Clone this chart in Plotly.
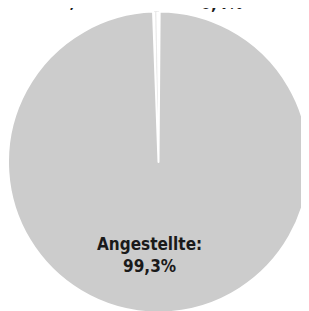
import plotly.graph_objects as go

labels = ["Beamte", "Arbeiter", "Angestellte"]
values = [0.3, 0.4, 99.3]
colors = ["#ffffff", "#ffffff", "#cccccc"]

FONT = "DejaVu Sans Condensed, DejaVu Sans, sans-serif"
TXT = dict(family=FONT, size=17, color="#1a1a1a")


def fmt(v):
    return f"{v:.1f}".replace(".", ",") + "%"


fig = go.Figure(go.Pie(
    labels=labels,
    values=values,
    sort=False,
    direction="clockwise",
    rotation=-1 - values[0] / 100 * 360,
    marker=dict(colors=colors,
                line=dict(color=["#e4e4e4", "#e4e4e4", "#ffffff"], width=[0.8, 0.8, 2])),
    textinfo="none",
    showlegend=False,
    hoverinfo="skip",
    domain=dict(x=[0.0, 301 / 309], y=[6.5 / 311, 307.5 / 311]),
))

# big-slice label
fig.add_annotation(x=141 / 309, y=64 / 311, xref="paper", yref="paper",
                   xanchor="center", yanchor="middle", showarrow=False,
                   text=f"<b>{labels[2]}:<br>{fmt(values[2])}</b>", font=TXT)

# small-slice labels sit above the chart and are mostly cut off by the page edge
fig.add_annotation(x=72 / 309, y=1, xref="paper", yref="paper",
                   xanchor="center", yanchor="bottom", yshift=-5, showarrow=False,
                   text=f"<b>{labels[0]}:<br>{fmt(values[0])}</b>", font=TXT)
fig.add_annotation(x=213 / 309, y=1, xref="paper", yref="paper",
                   xanchor="center", yanchor="bottom", yshift=-7, showarrow=False,
                   text=f"<b>{labels[1]}:<br>{fmt(values[1])}</b>", font=TXT)

fig.update_layout(
    width=309,
    height=311,
    margin=dict(l=0, r=0, t=0, b=0),
    paper_bgcolor="white",
    plot_bgcolor="white",
    separators=",.",
)

fig.write_html("out.html")
